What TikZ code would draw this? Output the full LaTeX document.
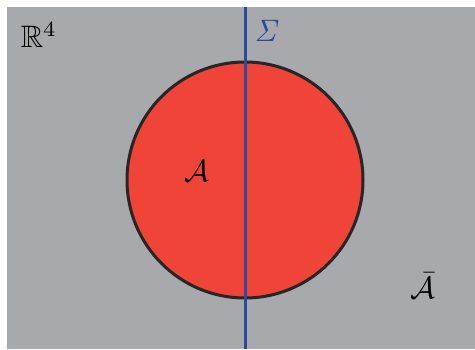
\documentclass[tikz,border=0pt]{standalone}
\usepackage{graphicx}
\usepackage{amssymb}
\definecolor{bggray}{HTML}{A7A9AC}
\definecolor{diskred}{HTML}{F04438}
\definecolor{sigblue}{HTML}{2B4A9E}
\newcommand{\bigtxt}[1]{\scalebox{3.1}{#1}}
\begin{document}
\begin{tikzpicture}[x=1pt,y=-1pt,
  lbl/.style={inner sep=0pt},
  disk/.style={circle,draw=black!85,line width=3pt,fill=diskred,minimum size=236pt,inner sep=0pt}]
\useasboundingbox (0,0) rectangle (475,349);
\fill[bggray] (7,7) rectangle (475,349);
\node[disk] (D) at (245,180) {};
\coordinate (top) at (245,7);
\coordinate (bot) at (245,349);
\draw[sigblue,line width=3pt] (top) -- (bot);
\node[lbl] (R) at (39,35) {\bigtxt{$\mathbb{R}^4$}};
\node[lbl,text=sigblue] (S) at (267,31) {\bigtxt{$\mathit{\Sigma}$}};
\node[lbl] (A) at (197,171) {\bigtxt{$\mathcal{A}$}};
\node[lbl] (Ab) at (423,286) {\bigtxt{$\bar{\mathcal{A}}$}};
\end{tikzpicture}
\end{document}
